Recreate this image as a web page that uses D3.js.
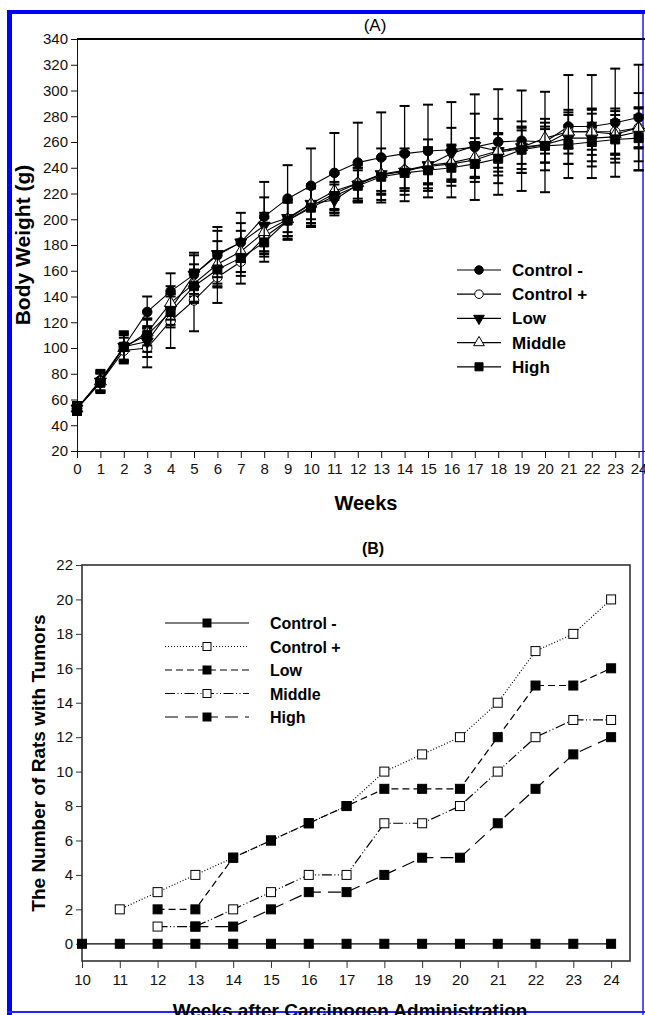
<!DOCTYPE html>
<html>
<head>
<meta charset="utf-8">
<script src="https://cdn.jsdelivr.net/npm/d3@7"></script>
<style>
  body { margin: 0; background: #fff; }
  svg { display: block; font-family: "Liberation Sans", Arial, sans-serif; }
</style>
</head>
<body>
<svg id="chart" width="645" height="1015"></svg>
<script>
// ---- Panel A: body weight (mean and SD) ----
const weeksA = [0, 1, 2, 3, 4, 5, 6, 7, 8, 9, 10, 11, 12, 13, 14, 15, 16, 17, 18, 19, 20, 21, 22, 23, 24];
const seriesNames = ["Control -", "Control +", "Low", "Middle", "High"];

const controlNegW = [53, 75, 101, 128, 144, 157, 172, 182, 202, 216, 226, 236, 244, 248, 251, 253, 254, 256, 260, 261, 260, 272, 272, 275, 279];
const controlPosW = [53, 73, 98, 100, 121, 137, 155, 167, 186, 199, 210, 220, 228, 234, 238, 241, 243, 246, 252, 255, 258, 268, 268, 268, 271];
const lowW        = [53, 74, 101, 105, 130, 157, 173, 182, 195, 201, 212, 215, 227, 235, 237, 242, 251, 257, 253, 256, 258, 263, 263, 264, 268];
const middleW     = [53, 74, 100, 112, 135, 150, 165, 175, 190, 200, 212, 222, 228, 235, 238, 242, 244, 248, 253, 256, 263, 268, 268, 266, 271];
const highW       = [53, 73, 101, 110, 128, 148, 161, 170, 182, 199, 209, 218, 226, 233, 236, 238, 240, 243, 247, 254, 257, 258, 260, 262, 263];

const controlNegSd = [5, 8, 12, 12, 14, 17, 22, 23, 27, 26, 29, 31, 31, 35, 37, 36, 37, 41, 41, 39, 39, 40, 40, 42, 41];
const controlPosSd = [4, 7, 10, 15, 21, 24, 20, 17, 15, 15, 15, 15, 14, 14, 14, 14, 14, 14, 15, 16, 14, 17, 18, 18, 16];
const lowSd        = [5, 8, 10, 12, 12, 15, 18, 15, 22, 14, 12, 12, 13, 20, 18, 20, 20, 25, 25, 20, 20, 20, 22, 20, 30];
const middleSd     = [4, 7, 10, 10, 13, 15, 18, 16, 15, 13, 15, 14, 12, 13, 14, 14, 14, 15, 13, 13, 12, 13, 14, 15, 15];
const highSd       = [5, 8, 11, 13, 12, 12, 13, 14, 15, 14, 15, 11, 12, 14, 14, 14, 14, 14, 13, 18, 13, 15, 15, 15, 18];

const yTicksA = [20, 40, 60, 80, 100, 120, 140, 160, 180, 200, 220, 240, 260, 280, 300, 320, 340];

// ---- Panel B: number of rats with tumors ----
const weeksB = [10, 11, 12, 13, 14, 15, 16, 17, 18, 19, 20, 21, 22, 23, 24];
const controlNegT = [0, 0, 0, 0, 0, 0, 0, 0, 0, 0, 0, 0, 0, 0, 0];
const controlPosT = [null, 2, 3, 4, 5, 6, 7, 8, 10, 11, 12, 14, 17, 18, 20];
const lowT        = [null, null, 2, 2, 5, 6, 7, 8, 9, 9, 9, 12, 15, 15, 16];
const middleT     = [null, null, 1, 1, 2, 3, 4, 4, 7, 7, 8, 10, 12, 13, 13];
const highT       = [null, null, null, 1, 1, 2, 3, 3, 4, 5, 5, 7, 9, 11, 12];
const yTicksB = [0, 2, 4, 6, 8, 10, 12, 14, 16, 18, 20, 22];

const svg = d3.select("#chart");

// page border (blue frame of the scanned figure)
svg.append("rect").attr("x", 7).attr("y", 10).attr("width", 640).attr("height", 4).attr("fill", "#0000ff");
svg.append("rect").attr("x", 7).attr("y", 10).attr("width", 5).attr("height", 1005).attr("fill", "#0000ff");
svg.append("rect").attr("x", 642).attr("y", 14).attr("width", 2).attr("height", 1001).attr("fill", "#5555ff");
svg.append("rect").attr("x", 7).attr("y", 1011).attr("width", 640).attr("height", 2).attr("fill", "#2222ff");

// ================= Panel A =================
const xA = d3.scaleLinear().domain([0, 25]).range([77, 662]);
const yA = d3.scaleLinear().domain([20, 340]).range([451, 39]);

const gA = svg.append("g");

gA.append("g")
  .attr("transform", `translate(${xA(0)},0)`)
  .call(d3.axisLeft(yA).tickValues(yTicksA).tickSize(6).tickSizeOuter(0).tickPadding(3))
  .call(g => g.selectAll("text").attr("font-size", 15).attr("fill", "#111"))
  .call(g => g.selectAll("line,path").attr("stroke", "#111"));

gA.append("g")
  .attr("transform", `translate(0,${yA(20)})`)
  .call(d3.axisBottom(xA).tickValues(weeksA).tickSize(7).tickSizeOuter(0).tickPadding(5))
  .call(g => g.selectAll("text").attr("font-size", 15).attr("fill", "#111"))
  .call(g => g.selectAll("line,path").attr("stroke", "#111"));

gA.append("line")
  .attr("x1", xA(0)).attr("x2", xA(25))
  .attr("y1", yA(340)).attr("y2", yA(340))
  .attr("stroke", "#000").attr("stroke-width", 2);

gA.append("text").attr("x", 375).attr("y", 31).attr("text-anchor", "middle")
  .attr("font-size", 17).text("(A)");
gA.append("text").attr("x", 366).attr("y", 510).attr("text-anchor", "middle")
  .attr("font-size", 20).attr("font-weight", "bold").text("Weeks");
gA.append("text").attr("transform", `translate(30,${(yA(20) + yA(340)) / 2}) rotate(-90)`)
  .attr("text-anchor", "middle").attr("font-size", 21).attr("font-weight", "bold")
  .text("Body Weight (g)");

const markerA = [
  { type: d3.symbolCircle, size: 72, fill: "#000", rot: 0 },
  { type: d3.symbolCircle, size: 72, fill: "#fff", rot: 0 },
  { type: d3.symbolTriangle, size: 62, fill: "#000", rot: 180 },
  { type: d3.symbolTriangle, size: 62, fill: "#fff", rot: 0 },
  { type: d3.symbolSquare, size: 81, fill: "#000", rot: 0 }
];
const meansA = [controlNegW, controlPosW, lowW, middleW, highW];
const sdsA = [controlNegSd, controlPosSd, lowSd, middleSd, highSd];

const lineA = d3.line().x(d => xA(d.w)).y(d => yA(d.v));

meansA.forEach((vals, si) => {
  const pts = weeksA.map((w, i) => ({ w, v: vals[i], sd: sdsA[si][i] }));
  const g = gA.append("g");
  // error bars
  const eb = g.selectAll(".eb").data(pts).enter().append("g");
  eb.append("line").attr("x1", d => xA(d.w)).attr("x2", d => xA(d.w))
    .attr("y1", d => yA(d.v + d.sd)).attr("y2", d => yA(d.v - d.sd))
    .attr("stroke", "#000").attr("stroke-width", 1.3);
  eb.append("line").attr("x1", d => xA(d.w) - 5).attr("x2", d => xA(d.w) + 5)
    .attr("y1", d => yA(d.v + d.sd)).attr("y2", d => yA(d.v + d.sd))
    .attr("stroke", "#000").attr("stroke-width", 2);
  eb.append("line").attr("x1", d => xA(d.w) - 5).attr("x2", d => xA(d.w) + 5)
    .attr("y1", d => yA(d.v - d.sd)).attr("y2", d => yA(d.v - d.sd))
    .attr("stroke", "#000").attr("stroke-width", 2);
  g.append("path").datum(pts).attr("d", lineA)
    .attr("fill", "none").attr("stroke", "#000").attr("stroke-width", 1.1);
  const m = markerA[si];
  g.selectAll(".mk").data(pts).enter().append("path")
    .attr("d", d3.symbol().type(m.type).size(m.size))
    .attr("transform", d => `translate(${xA(d.w)},${yA(d.v)}) rotate(${m.rot})`)
    .attr("fill", m.fill).attr("stroke", "#000").attr("stroke-width", 1);
});

// legend A
const legA = gA.append("g");
seriesNames.forEach((name, i) => {
  const y = 270 + i * 24.2;
  const m = markerA[i];
  legA.append("line").attr("x1", 457).attr("x2", 501).attr("y1", y).attr("y2", y)
    .attr("stroke", "#000").attr("stroke-width", 1.2);
  legA.append("path").attr("d", d3.symbol().type(m.type).size(m.size * 0.8))
    .attr("transform", `translate(479,${y}) rotate(${m.rot})`)
    .attr("fill", m.fill).attr("stroke", "#000");
  legA.append("text").attr("x", 512).attr("y", y + 6).attr("font-size", 17)
    .attr("font-weight", "bold").text(name);
});

// ================= Panel B =================
const xB = d3.scaleLinear().domain([10, 24.5]).range([82, 630]);
const yB = d3.scaleLinear().domain([-1, 22]).range([961, 565]);
const gB = svg.append("g");

gB.append("rect").attr("x", xB(10)).attr("y", yB(22))
  .attr("width", xB(24.5) - xB(10)).attr("height", yB(-1) - yB(22))
  .attr("fill", "none").attr("stroke", "#333").attr("stroke-width", 1.6);

gB.append("g")
  .attr("transform", `translate(${xB(10)},0)`)
  .call(d3.axisLeft(yB).tickValues(yTicksB).tickSize(6).tickSizeOuter(0).tickPadding(3))
  .call(g => g.select(".domain").remove())
  .call(g => g.selectAll("text").attr("font-size", 15).attr("fill", "#111"))
  .call(g => g.selectAll("line").attr("stroke", "#333"));

gB.append("g")
  .attr("transform", `translate(0,${yB(-1)})`)
  .call(d3.axisBottom(xB).tickValues(weeksB).tickSize(7).tickSizeOuter(0).tickPadding(6))
  .call(g => g.select(".domain").remove())
  .call(g => g.selectAll("text").attr("font-size", 15).attr("fill", "#111"))
  .call(g => g.selectAll("line").attr("stroke", "#333"));

gB.append("text").attr("x", 373).attr("y", 554).attr("text-anchor", "middle")
  .attr("font-size", 16).attr("font-weight", "bold").text("(B)");
gB.append("text").attr("x", 350).attr("y", 1017).attr("text-anchor", "middle")
  .attr("font-size", 19).attr("font-weight", "bold").text("Weeks after Carcinogen Administration");
gB.append("text").attr("transform", `translate(45,${(yB(-1) + yB(22)) / 2}) rotate(-90)`)
  .attr("text-anchor", "middle").attr("font-size", 19).attr("font-weight", "bold")
  .text("The Number of Rats with Tumors");

const styleB = [
  { dash: null, fill: "#000" },
  { dash: "1,2", fill: "#fff" },
  { dash: "7,4", fill: "#000" },
  { dash: "10,2.5,1,2.5,1,2.5", fill: "#fff" },
  { dash: "13,7", fill: "#000" }
];
const countsB = [controlNegT, controlPosT, lowT, middleT, highT];
const lineB = d3.line().defined(d => d.v !== null).x(d => xB(d.w)).y(d => yB(d.v));

countsB.forEach((vals, si) => {
  const pts = weeksB.map((w, i) => ({ w, v: vals[i] }));
  const g = gB.append("g");
  const st = styleB[si];
  g.append("path").datum(pts).attr("d", lineB)
    .attr("fill", "none").attr("stroke", "#000").attr("stroke-width", 1.2)
    .attr("stroke-dasharray", st.dash);
  g.selectAll(".mk").data(pts.filter(d => d.v !== null)).enter().append("rect")
    .attr("x", d => xB(d.w) - 4.5).attr("y", d => yB(d.v) - 4.5)
    .attr("width", 9).attr("height", 9)
    .attr("fill", st.fill).attr("stroke", "#000").attr("stroke-width", 1);
});

// legend B
const legB = gB.append("g");
seriesNames.forEach((name, i) => {
  const y = 623 + i * 23.5;
  const st = styleB[i];
  legB.append("line").attr("x1", 165).attr("x2", 249).attr("y1", y).attr("y2", y)
    .attr("stroke", "#000").attr("stroke-width", 1.2).attr("stroke-dasharray", st.dash);
  legB.append("rect").attr("x", 207 - 4).attr("y", y - 4).attr("width", 8).attr("height", 8)
    .attr("fill", st.fill).attr("stroke", "#000");
  legB.append("text").attr("x", 270).attr("y", y + 6).attr("font-size", 16)
    .attr("font-weight", "bold").text(name);
});
</script>
</body>
</html>
